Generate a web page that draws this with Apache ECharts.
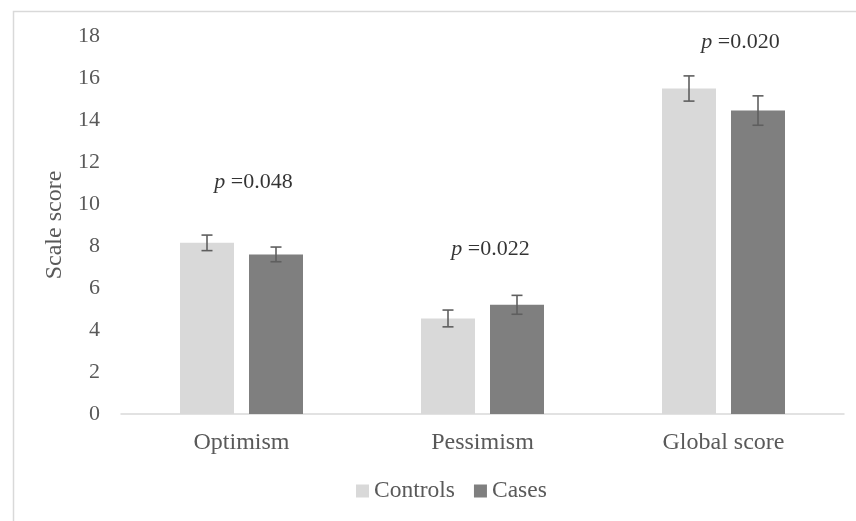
<!DOCTYPE html>
<html><head><meta charset="utf-8">
<script src="https://cdn.jsdelivr.net/npm/echarts@6/dist/echarts.min.js"></script>
<style>html,body{margin:0;padding:0;background:#fff}#c{width:856px;height:521px}</style>
</head><body><div id="c"></div>
<script>
var categories = ['Optimism', 'Pessimism', 'Global score'];
var controlsMean = [8.15, 4.55, 15.5];
var controlsErr = [0.37, 0.4, 0.6];
var casesMean = [7.6, 5.2, 14.45];
var casesErr = [0.35, 0.45, 0.7];
var pLabels = ['0.048', '0.022', '0.020'];
var pLabelY = [11.05, 7.86, 17.7];
var yTicks = [0, 2, 4, 6, 8, 10, 12, 14, 16, 18];

var FONT = '"Liberation Serif", "Times New Roman", serif';
var TXT = '#595959';
var pOffsets = [[12, 0], [8, 0], [17, 0]];

var chart = echarts.init(document.getElementById('c'));
var BW = 54, GAP = 15;
var half = (BW + GAP) / 2;

function errSeries(name, means, errs, dir) {
  return {
    type: 'custom', name: name + ' err', silent: true, z: 5,
    data: means.map(function (m, i) { return [i, m, errs[i]]; }),
    renderItem: function (params, api) {
      var i = api.value(0), m = api.value(1), e = api.value(2);
      var top = api.coord([i, m + e]);
      var bot = api.coord([i, m - e]);
      var x = top[0] + dir * half;
      var c = 5.5;
      var st = { stroke: '#5f5f5f', lineWidth: 1.6 };
      return { type: 'group', children: [
        { type: 'line', shape: { x1: x, y1: top[1], x2: x, y2: bot[1] }, style: st },
        { type: 'line', shape: { x1: x - c, y1: top[1], x2: x + c, y2: top[1] }, style: st },
        { type: 'line', shape: { x1: x - c, y1: bot[1], x2: x + c, y2: bot[1] }, style: st }
      ]};
    }
  };
}

chart.setOption({
  animation: false,
  backgroundColor: '#fff',
  graphic: [{ type: 'rect', shape: { x: 13.5, y: 11.5, width: 900, height: 600 },
    style: { fill: 'none', stroke: '#d9d9d9', lineWidth: 1.5 }, z: -1 }],
  grid: { left: 121, right: 12, top: 36, bottom: 107 },
  legend: {
    data: ['Controls', 'Cases'], bottom: 13, left: 351,
    itemWidth: 13, itemHeight: 13, itemGap: 19, icon: 'rect',
    textStyle: { fontFamily: FONT, fontSize: 23.5, color: TXT }
  },
  xAxis: {
    type: 'category', data: categories,
    axisLine: { lineStyle: { color: '#d9d9d9', width: 1.5 } },
    axisTick: { show: false },
    axisLabel: { fontFamily: FONT, fontSize: 24, color: TXT, margin: 17 }
  },
  yAxis: {
    type: 'value', min: 0, max: 18, interval: 2,
    name: 'Scale score', nameLocation: 'middle', nameGap: 50,
    nameTextStyle: { fontFamily: FONT, fontSize: 24, color: TXT },
    axisLine: { show: false }, axisTick: { show: false }, splitLine: { show: false },
    axisLabel: { fontFamily: FONT, fontSize: 22, color: TXT, margin: 21,
      formatter: function (v) { return yTicks.indexOf(v) >= 0 ? String(v) : ''; } }
  },
  series: [
    { name: 'Controls', type: 'bar', data: controlsMean, barWidth: BW, barGap: (GAP / BW * 100) + '%',
      itemStyle: { color: '#d9d9d9' } },
    { name: 'Cases', type: 'bar', data: casesMean, barWidth: BW,
      itemStyle: { color: '#7f7f7f' } },
    errSeries('Controls', controlsMean, controlsErr, -1),
    errSeries('Cases', casesMean, casesErr, 1),
    { type: 'scatter', name: 'p', silent: true, symbolSize: 0,
      data: pLabels.map(function (p, i) {
        return { value: [i, pLabelY[i]], label: { offset: pOffsets[i] } };
      }),
      label: { show: true, position: 'inside',
        formatter: function (p) { return '{i|p} =' + pLabels[p.dataIndex]; },
        fontFamily: FONT, fontSize: 22, color: '#000',
        rich: { i: { fontFamily: FONT, fontSize: 22, fontStyle: 'italic', color: '#000' } } }
    }
  ]
});
</script></body></html>
